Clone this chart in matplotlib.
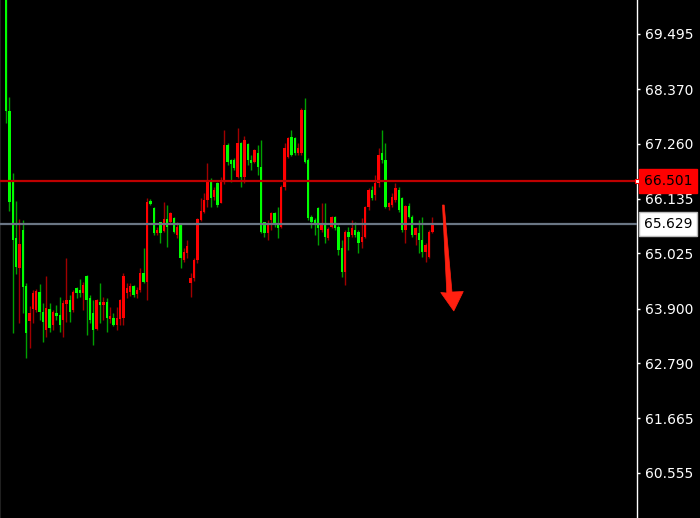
import matplotlib
matplotlib.use("Agg")
import matplotlib.pyplot as plt
from matplotlib.patches import Polygon
import numpy as np

opens = [70.49, 67.93, 66.52, 65.34, 64.73, 65.50, 64.36, 63.65, 63.89, 63.87,
         64.24, 63.83, 63.47, 63.89, 63.57, 63.81, 63.77, 63.67, 64.00, 64.08,
         63.87, 64.32, 64.28, 64.22, 64.57, 64.12, 63.81, 63.49, 64.04, 63.98,
         64.04, 63.69, 63.71, 63.57, 63.69, 63.71, 64.22, 64.24, 64.36, 64.20,
         64.28, 64.63, 64.45, 66.09, 65.95, 65.44, 65.67, 65.48, 65.73, 65.67,
         65.75, 65.40, 65.61, 64.89, 65.04, 64.42, 64.53, 64.89, 65.71, 65.87,
         66.11, 66.52, 66.18, 66.46, 66.05, 66.48, 67.23, 66.93, 66.93, 66.58,
         67.27, 66.58, 67.25, 66.93, 66.89, 67.07, 66.79, 65.67, 65.44, 65.71,
         65.85, 65.61, 65.56, 66.38, 66.99, 67.40, 67.38, 67.07, 67.07, 67.95,
         66.93, 65.77, 65.71, 65.95, 65.50, 65.65, 65.34, 65.56, 65.77, 65.56,
         65.14, 64.65, 65.46, 65.40, 65.50, 65.46, 65.26, 65.36, 65.97, 66.32,
         66.22, 66.46, 67.07, 66.93, 65.97, 66.01, 66.11, 66.32, 66.15, 65.50,
         65.99, 65.77, 65.40, 65.44, 65.30, 65.06, 64.95, 65.46]
highs = [70.60, 68.21, 66.66, 66.09, 65.73, 65.71, 64.42, 63.96, 64.28, 64.30,
         64.40, 64.02, 64.57, 64.02, 63.87, 63.98, 64.14, 64.08, 64.93, 64.18,
         64.28, 64.34, 64.51, 64.44, 64.59, 64.18, 64.08, 64.10, 64.42, 64.14,
         64.12, 63.93, 63.81, 63.93, 64.10, 64.63, 64.42, 64.42, 64.38, 64.34,
         64.73, 65.14, 66.15, 66.13, 65.97, 65.56, 65.67, 66.07, 66.01, 65.87,
         65.77, 65.67, 65.65, 65.14, 65.30, 64.63, 64.93, 65.75, 66.15, 66.26,
         66.87, 66.56, 66.38, 66.48, 66.58, 67.54, 67.27, 66.95, 66.97, 67.58,
         67.30, 67.42, 67.27, 67.03, 67.15, 67.23, 67.34, 65.67, 65.71, 65.87,
         65.87, 65.97, 66.42, 67.27, 67.40, 67.54, 67.40, 67.27, 67.99, 68.19,
         66.97, 65.81, 65.75, 65.97, 66.05, 66.05, 65.56, 65.79, 65.79, 65.61,
         65.30, 65.50, 65.56, 65.71, 65.67, 65.50, 65.75, 65.99, 66.36, 66.40,
         66.62, 67.17, 67.54, 67.27, 66.07, 66.26, 66.46, 66.38, 66.18, 66.01,
         66.05, 65.81, 65.56, 65.71, 65.77, 65.24, 65.50, 65.77]
lows = [67.68, 65.89, 63.41, 64.61, 63.61, 63.81, 62.90, 63.10, 63.61, 63.83,
        63.67, 63.22, 63.32, 63.43, 63.47, 63.67, 63.43, 63.33, 63.63, 63.63,
        63.83, 64.12, 64.14, 63.87, 63.37, 63.61, 63.16, 63.47, 63.61, 63.67,
        63.43, 63.61, 63.55, 63.47, 63.57, 63.57, 64.12, 64.16, 64.14, 64.12,
        64.24, 64.42, 64.08, 66.01, 65.40, 65.40, 65.24, 65.46, 65.16, 65.65,
        65.44, 65.34, 64.73, 64.85, 64.93, 64.14, 64.47, 64.83, 65.69, 65.85,
        65.97, 65.97, 66.11, 65.97, 66.05, 66.44, 66.83, 66.48, 66.73, 66.56,
        66.38, 66.46, 66.83, 66.73, 66.87, 66.62, 65.44, 65.36, 65.30, 65.50,
        65.56, 65.34, 65.54, 66.32, 66.97, 67.01, 67.03, 67.03, 67.03, 66.87,
        65.71, 65.54, 65.40, 65.20, 65.46, 65.24, 65.30, 65.54, 65.50, 64.99,
        64.55, 64.38, 65.10, 65.36, 65.36, 65.04, 65.14, 65.34, 65.91, 66.11,
        66.11, 66.38, 66.87, 65.95, 65.91, 65.97, 66.07, 65.87, 65.46, 65.24,
        65.75, 65.36, 65.20, 65.04, 64.95, 64.85, 64.93, 65.44]
closes = [67.93, 66.07, 65.30, 64.75, 65.22, 64.34, 63.41, 63.81, 64.22, 64.26,
          63.83, 63.63, 63.91, 63.51, 63.83, 63.75, 63.57, 64.02, 64.08, 63.83,
          64.24, 64.22, 64.22, 64.38, 64.08, 63.67, 63.47, 64.08, 63.98, 64.04,
          63.71, 63.75, 63.57, 63.71, 64.08, 64.57, 64.32, 64.36, 64.18, 64.28,
          64.63, 64.45, 66.07, 66.03, 65.44, 65.50, 65.44, 65.73, 65.56, 65.85,
          65.46, 65.56, 64.93, 65.06, 65.18, 64.53, 64.89, 65.73, 65.89, 66.11,
          66.52, 66.15, 66.32, 66.01, 66.48, 67.23, 66.89, 66.85, 66.77, 67.27,
          66.58, 67.34, 66.93, 66.87, 67.13, 66.79, 65.46, 65.44, 65.65, 65.85,
          65.61, 65.54, 66.38, 67.17, 67.38, 67.03, 67.07, 67.17, 67.95, 66.89,
          65.75, 65.67, 65.65, 65.54, 65.61, 65.36, 65.52, 65.77, 65.54, 65.10,
          64.65, 65.46, 65.36, 65.54, 65.40, 65.24, 65.36, 65.97, 66.32, 66.15,
          66.46, 67.03, 66.93, 65.97, 66.05, 66.18, 66.36, 65.91, 65.50, 65.99,
          65.77, 65.40, 65.54, 65.30, 65.06, 65.20, 65.46, 65.65]

ytick_values = [69.495, 68.370, 67.260, 66.135, 65.025, 63.900, 62.790, 61.665, 60.555]
red_level = 66.501
grey_level = 65.629

W, H = 700, 518
fig = plt.figure(figsize=(W / 100, H / 100), dpi=100, facecolor="black")
ax = fig.add_axes([0, 0, 637 / W, 1])
ax.set_facecolor("black")

x = np.arange(len(opens))
o = np.array(opens); c = np.array(closes); h = np.array(highs); l = np.array(lows)
down = c < o
body_col = np.where(down, "#00ff00", "#ff0000")
wick_col = np.where(down, "#00a000", "#a00000")

ax.vlines(x, l, h, colors=wick_col, linewidth=1.0, zorder=2)
bottom = np.minimum(o, c)
height = np.maximum(np.abs(c - o), 0.03)
ax.bar(x, height, bottom=bottom, width=0.7, color=body_col, linewidth=0, zorder=3)

ax.axhline(red_level, color="#bf0000", linewidth=1.6, zorder=4)
ax.axhline(grey_level, color="#6a7684", linewidth=1.6, zorder=4)

ax.set_xlim(-1.79, 187.97)
ax.set_ylim(59.638, 70.187)
ax.set_xticks([])

for s in ["top", "bottom"]:
    ax.spines[s].set_visible(False)
ax.spines["left"].set_color("#202020")
ax.spines["right"].set_color("white")
ax.spines["right"].set_linewidth(1.0)

ax.yaxis.tick_right()
ax.set_yticks(ytick_values)
ax.set_yticklabels([f"{v:.3f}" for v in ytick_values])
ax.tick_params(axis="y", colors="white", length=2.5, width=1, pad=3, labelsize=10)

# current-price labels on the axis
tx = 644 / 637
ax.text(tx, red_level, f"{red_level:.3f}", transform=ax.get_yaxis_transform(),
        ha="left", va="center", fontsize=10, color="black", zorder=10, clip_on=False,
        bbox=dict(boxstyle="square,pad=0.35", facecolor="#ff0000", edgecolor="#ff0000"))
ax.text(tx, grey_level, f"{grey_level:.3f}", transform=ax.get_yaxis_transform(),
        ha="left", va="center", fontsize=10, color="black", zorder=10, clip_on=False,
        bbox=dict(boxstyle="square,pad=0.35", facecolor="white", edgecolor="#bbbbbb"))
ax.plot([1.0], [red_level], marker="s", markersize=3.5, markerfacecolor="white",
        markeredgecolor="#ff0000", markeredgewidth=0.8, transform=ax.get_yaxis_transform(),
        clip_on=False, zorder=11)

# drawn arrow annotation (pixel outline -> figure fraction)
arrow_px = [(442.5, 205), (444.2, 205), (452.0, 292), (463.3, 291.5), (453.8, 311),
            (440.7, 292.5), (446.8, 293)]
arrow = Polygon([(px / W, 1 - py / H) for px, py in arrow_px], closed=True,
                facecolor="#ff2010", edgecolor="#ff2010", linewidth=0.5,
                transform=fig.transFigure, zorder=12)
fig.patches.append(arrow)

fig.savefig("out.png", dpi=100, facecolor="black")
